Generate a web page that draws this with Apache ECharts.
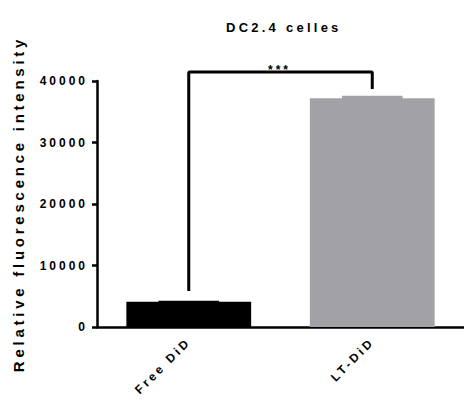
<!DOCTYPE html>
<html>
<head>
<meta charset="utf-8">
<script src="https://cdn.jsdelivr.net/npm/echarts@6/dist/echarts.min.js"></script>
<style>
  html, body { margin: 0; padding: 0; background: #fff; }
  #chart { width: 464px; height: 404px; }
  #chart text { letter-spacing: 0.25em; }
</style>
</head>
<body>
<div id="chart"></div>
<script>
// data
var categories = ['Free DiD', 'LT-DiD'];
var means = [4100, 37200];
var errors = [150, 400];
var barColors = ['#000000', '#a2a1a6'];
// significance bracket: [category, value]
var bracket = [['Free DiD', 5850], ['Free DiD', 41450], ['LT-DiD', 41450], ['LT-DiD', 38700]];
var yTicks = [0, 10000, 20000, 30000, 40000];

var font = 'Liberation Sans, Arial, sans-serif';

var chart = echarts.init(document.getElementById('chart'), null, { renderer: 'svg' });

chart.setOption({
  backgroundColor: '#fff',
  animation: false,
  title: {
    text: 'DC2.4 celles',
    left: 221,
    top: 16,
    textStyle: { fontFamily: font, fontSize: 13, fontWeight: 'bold', color: '#000' }
  },
  grid: { left: 97, top: 81, width: 372, height: 246 },
  xAxis: {
    type: 'category',
    data: categories,
    axisLine: { lineStyle: { color: '#000', width: 2.5 } },
    axisTick: { alignWithLabel: true, length: 6, lineStyle: { color: '#000', width: 2.5 } },
    axisLabel: {
      rotate: 45, margin: 13, color: '#000',
      fontFamily: font, fontSize: 12, fontWeight: 'bold'
    }
  },
  yAxis: {
    type: 'value',
    min: 0, max: 40000, interval: 10000,
    name: 'Relative fluorescence intensity',
    nameLocation: 'middle',
    nameGap: 71,
    nameTextStyle: { fontFamily: font, fontSize: 15, fontWeight: 'bold', color: '#000' },
    splitLine: { show: false },
    axisLine: { show: true, lineStyle: { color: '#000', width: 2.5 } },
    axisTick: { show: true, length: 5, lineStyle: { color: '#000', width: 2.5 } },
    axisLabel: {
      margin: 9, color: '#000', fontFamily: font, fontSize: 12, fontWeight: 'bold',
      formatter: function (v) { return yTicks.indexOf(v) >= 0 ? String(v) : ''; }
    }
  },
  series: [
    {
      type: 'bar',
      barWidth: '68%',
      data: means.map(function (v, i) {
        return { value: v, itemStyle: { color: barColors[i] } };
      })
    },
    {
      type: 'custom',
      renderItem: function (params, api) {
        var i = api.value(0);
        var top = api.coord([i, api.value(1) + api.value(2)]);
        var base = api.coord([i, api.value(1)]);
        var w = api.size([1, 0])[0] * 0.33;
        return {
          type: 'rect',
          shape: { x: top[0] - w / 2, y: top[1], width: w, height: base[1] - top[1] + 1 },
          style: { fill: barColors[i] }
        };
      },
      data: means.map(function (v, i) { return [i, v, errors[i]]; }),
      z: 3
    },
    {
      type: 'line',
      data: bracket,
      clip: false,
      symbol: 'none',
      lineStyle: { color: '#000', width: 3 },
      z: 4
    }
  ],
  graphic: [{
    type: 'text',
    left: 268,
    top: 64,
    z: 10,
    style: { text: '***', fill: '#000', font: 'bold 12px ' + font }
  }]
});
</script>
</body>
</html>
